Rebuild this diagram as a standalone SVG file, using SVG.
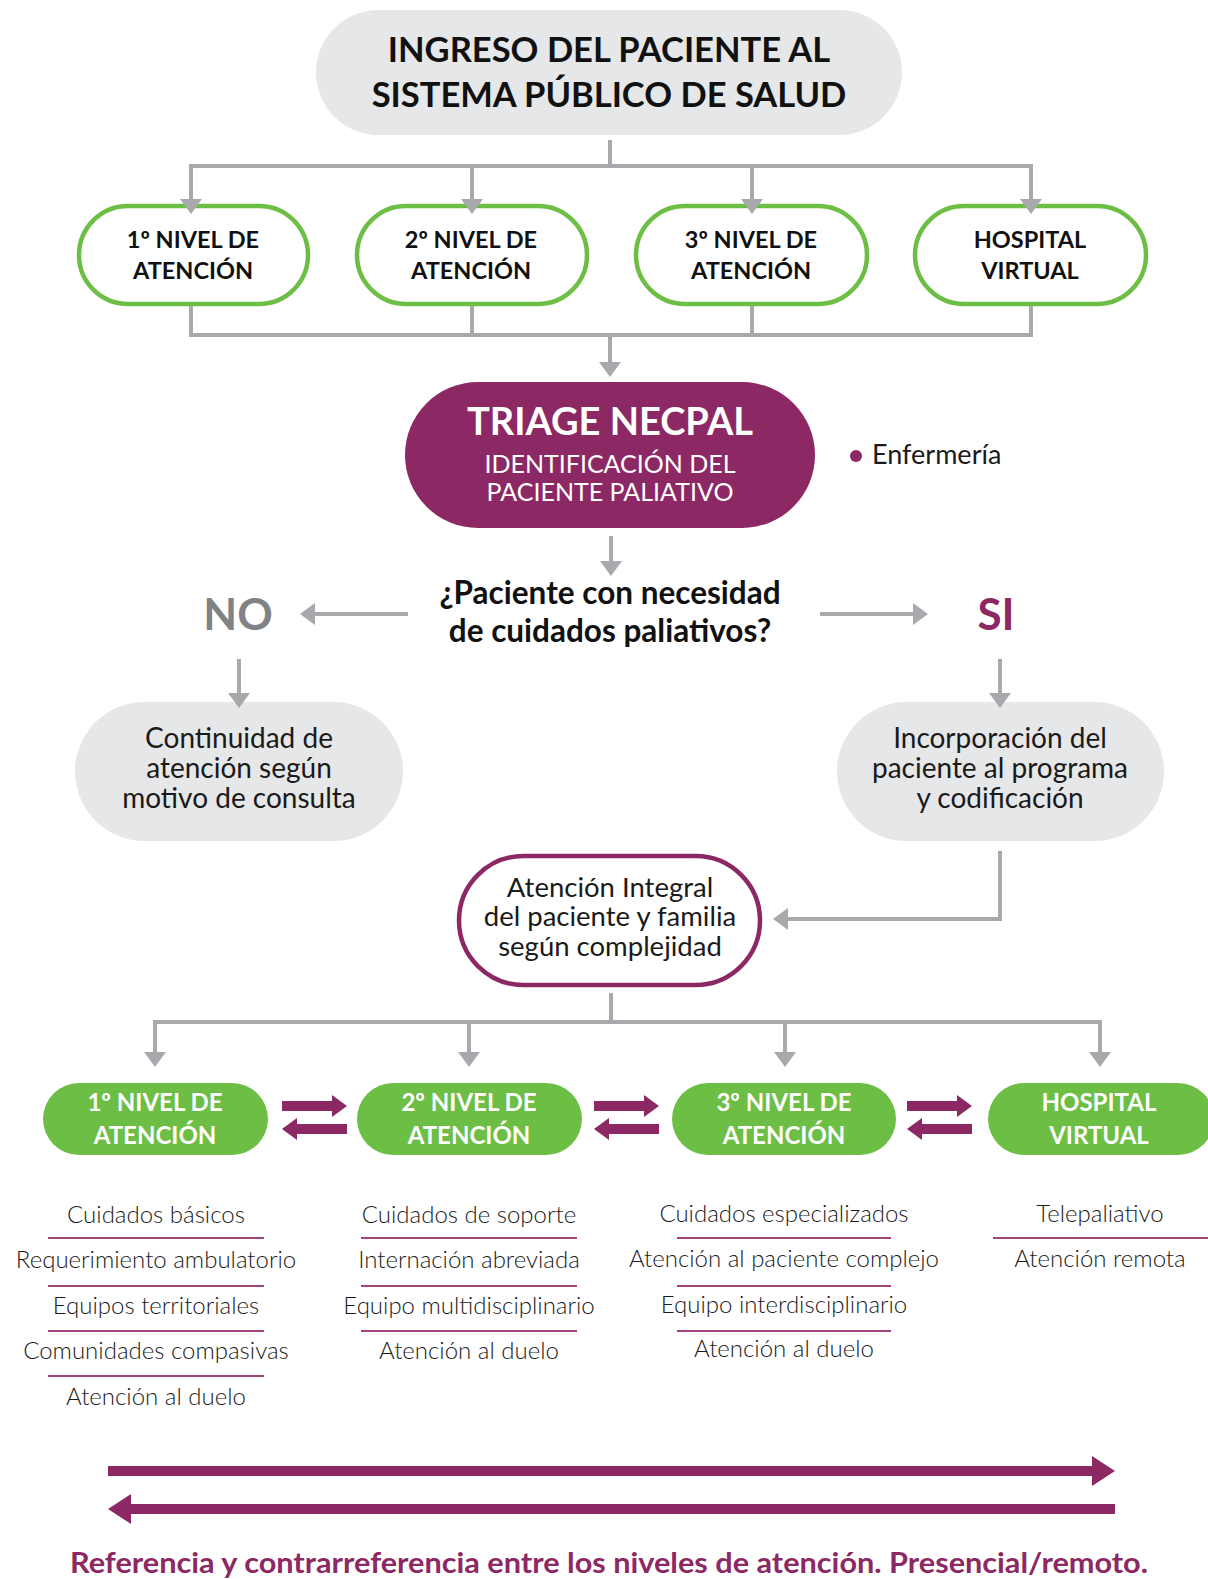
<svg xmlns="http://www.w3.org/2000/svg" width="1208" height="1579" viewBox="0 0 1208 1579">
<defs>
<marker id="ga" viewBox="0 0 15 22" refX="5" refY="11" markerWidth="15" markerHeight="22" markerUnits="userSpaceOnUse" orient="auto-start-reverse"><path d="M0,0 L15,11 L0,22 z" fill="#a7a9ac"/></marker>
<marker id="pa" viewBox="0 0 15 22" refX="1" refY="11" markerWidth="15" markerHeight="22" markerUnits="userSpaceOnUse" orient="auto"><path d="M0,0 L15,11 L0,22 z" fill="#8c2864"/></marker>
<marker id="pb" viewBox="0 0 23 30" refX="1" refY="15" markerWidth="23" markerHeight="30" markerUnits="userSpaceOnUse" orient="auto"><path d="M0,0 L23,15 L0,30 z" fill="#8c2864"/></marker>
<style>
text{font-family:Lato,"Open Sans","Liberation Sans",sans-serif;text-anchor:middle}
.con{fill:none;stroke:#a7a9ac;stroke-width:4}
.arr{marker-end:url(#ga)}
.both{marker-start:url(#ga);marker-end:url(#ga)}
.pur{fill:none;stroke:#8c2864;stroke-width:10}
.big{fill:none;stroke:#8c2864;stroke-width:10}
.gray{fill:#e6e7e8}
.lvl{fill:#fff;stroke:#6dbe45;stroke-width:4.5}
.lvlt{font-size:23.5px;font-weight:700;fill:#111}
.gn{fill:#6dbe45}
.gnt{font-size:24px;font-weight:700;fill:#fff}
.gt{font-size:28px;fill:#1a1a1a;font-weight:400}
.li{font-size:24px;fill:#1a1a1a;font-weight:300}
.sep{stroke:#a2457f;stroke-width:2}
</style>
</defs>

<g id="ingreso">
<rect class="gray" x="316" y="10" width="586" height="125" rx="62.5"/>
<text x="609" y="62" style="font-size:34.5px;font-weight:700;fill:#111">INGRESO DEL PACIENTE AL</text>
<text x="609" y="107" style="font-size:34.5px;font-weight:700;fill:#111">SISTEMA PÚBLICO DE SALUD</text>
</g>

<g id="nivel1">
<rect class="lvl" x="79" y="206" width="229" height="98" rx="49"/>
<text class="lvlt" x="193" y="248">1º NIVEL DE</text>
<text class="lvlt" x="193" y="279">ATENCIÓN</text>
</g>
<g id="nivel2">
<rect class="lvl" x="357" y="206" width="230" height="98" rx="49"/>
<text class="lvlt" x="471" y="248">2º NIVEL DE</text>
<text class="lvlt" x="471" y="279">ATENCIÓN</text>
</g>
<g id="nivel3">
<rect class="lvl" x="636" y="206" width="231" height="98" rx="49"/>
<text class="lvlt" x="751" y="248">3º NIVEL DE</text>
<text class="lvlt" x="751" y="279">ATENCIÓN</text>
</g>
<g id="hospital">
<rect class="lvl" x="915" y="206" width="231" height="98" rx="49"/>
<text class="lvlt" x="1030" y="248">HOSPITAL</text>
<text class="lvlt" x="1030" y="279">VIRTUAL</text>
</g>

<g id="triage">
<rect x="405" y="382" width="410" height="146" rx="73" fill="#8c2864"/>
<text x="610" y="435" style="font-size:38px;font-weight:700;fill:#fff">TRIAGE NECPAL</text>
<text x="610" y="473" style="font-size:25px;fill:#fff">IDENTIFICACIÓN DEL</text>
<text x="610" y="501" style="font-size:25px;fill:#fff">PACIENTE PALIATIVO</text>
</g>

<g id="enfermeria">
<circle cx="856" cy="456" r="6" fill="#8c2864"/>
<text x="872" y="464" style="font-size:27px;fill:#1a1a1a;text-anchor:start">Enfermería</text>
</g>

<g id="pregunta">
<text x="610" y="604" style="font-size:31.5px;font-weight:700;fill:#111">¿Paciente con necesidad</text>
<text x="610" y="642" style="font-size:31.5px;font-weight:700;fill:#111">de cuidados paliativos?</text>
</g>

<g id="no">
<text x="238" y="630" style="font-size:44px;font-weight:700;fill:#808285">NO</text>
</g>
<g id="si">
<text x="996" y="630" style="font-size:44px;font-weight:700;fill:#8c2864">SI</text>
</g>

<g id="continuidad">
<rect class="gray" x="75" y="702" width="328" height="139" rx="69.5"/>
<text class="gt" x="239" y="748">Continuidad de</text>
<text class="gt" x="239" y="778">atención según</text>
<text class="gt" x="239" y="808">motivo de consulta</text>
</g>

<g id="incorporacion">
<rect class="gray" x="837" y="702" width="327" height="139" rx="69.5"/>
<text class="gt" x="1000" y="748">Incorporación del</text>
<text class="gt" x="1000" y="778">paciente al programa</text>
<text class="gt" x="1000" y="808">y codificación</text>
</g>

<g id="integral">
<rect x="459" y="856" width="301" height="129" rx="64.5" fill="#fff" stroke="#8c2864" stroke-width="4.5"/>
<text class="gt" x="610" y="897" style="font-size:27.5px">Atención Integral</text>
<text class="gt" x="610" y="926" style="font-size:27.5px">del paciente y familia</text>
<text class="gt" x="610" y="956" style="font-size:27.5px">según complejidad</text>
</g>

<g id="n1">
<rect class="gn" x="43" y="1083" width="225" height="72" rx="36"/>
<text class="gnt" x="155" y="1111">1º NIVEL DE</text>
<text class="gnt" x="155" y="1144">ATENCIÓN</text>
</g>
<g id="n2">
<rect class="gn" x="357" y="1083" width="225" height="72" rx="36"/>
<text class="gnt" x="469" y="1111">2º NIVEL DE</text>
<text class="gnt" x="469" y="1144">ATENCIÓN</text>
</g>
<g id="n3">
<rect class="gn" x="672" y="1083" width="224" height="72" rx="36"/>
<text class="gnt" x="784" y="1111">3º NIVEL DE</text>
<text class="gnt" x="784" y="1144">ATENCIÓN</text>
</g>
<g id="n4">
<rect class="gn" x="988" y="1083" width="226" height="72" rx="36"/>
<text class="gnt" x="1099" y="1111">HOSPITAL</text>
<text class="gnt" x="1099" y="1144">VIRTUAL</text>
</g>

<g id="lista1">
<text class="li" x="156" y="1223">Cuidados básicos</text>
<line class="sep" x1="48" y1="1238" x2="264" y2="1238"/>
<text class="li" x="156" y="1268">Requerimiento ambulatorio</text>
<line class="sep" x1="48" y1="1286" x2="264" y2="1286"/>
<text class="li" x="156" y="1314">Equipos territoriales</text>
<line class="sep" x1="48" y1="1331" x2="264" y2="1331"/>
<text class="li" x="156" y="1359">Comunidades compasivas</text>
<line class="sep" x1="48" y1="1376" x2="264" y2="1376"/>
<text class="li" x="156" y="1405">Atención al duelo</text>
</g>

<g id="lista2">
<text class="li" x="469" y="1223">Cuidados de soporte</text>
<line class="sep" x1="361" y1="1238" x2="577" y2="1238"/>
<text class="li" x="469" y="1268">Internación abreviada</text>
<line class="sep" x1="361" y1="1286" x2="577" y2="1286"/>
<text class="li" x="469" y="1314">Equipo multidisciplinario</text>
<line class="sep" x1="361" y1="1331" x2="577" y2="1331"/>
<text class="li" x="469" y="1359">Atención al duelo</text>
</g>

<g id="lista3">
<text class="li" x="784" y="1222">Cuidados especializados</text>
<line class="sep" x1="677" y1="1238" x2="891" y2="1238"/>
<text class="li" x="784" y="1267">Atención al paciente complejo</text>
<line class="sep" x1="677" y1="1286" x2="891" y2="1286"/>
<text class="li" x="784" y="1313">Equipo interdisciplinario</text>
<line class="sep" x1="677" y1="1331" x2="891" y2="1331"/>
<text class="li" x="784" y="1357">Atención al duelo</text>
</g>

<g id="lista4">
<text class="li" x="1100" y="1222">Telepaliativo</text>
<line class="sep" x1="993" y1="1238" x2="1208" y2="1238"/>
<text class="li" x="1100" y="1267">Atención remota</text>
</g>

<g id="leyenda">
<text x="609" y="1573" textLength="1078" lengthAdjust="spacingAndGlyphs" style="font-size:29px;font-weight:700;fill:#8c2864">Referencia y contrarreferencia entre los niveles de atención. Presencial/remoto.</text>
</g>

<g id="connectors">
<path class="con" d="M610,140 V166"/>
<path class="con both" d="M191,204 V166 H1031 V204"/>
<path class="con arr" d="M472,166 V204"/>
<path class="con arr" d="M752,166 V204"/>
<path class="con" d="M191,306 V335 H1031 V306"/>
<path class="con" d="M472,306 V335"/>
<path class="con" d="M752,306 V335"/>
<path class="con arr" d="M610,335 V367"/>
<path class="con arr" d="M611,536 V566"/>
<path class="con arr" d="M408,614 H310"/>
<path class="con arr" d="M820,614 H918"/>
<path class="con arr" d="M239,659 V698"/>
<path class="con arr" d="M1000,659 V698"/>
<path class="con arr" d="M1000,851 V919 H783"/>
<path class="con" d="M611,993 V1022"/>
<path class="con both" d="M155,1057 V1022 H1100 V1057"/>
<path class="con arr" d="M469,1022 V1057"/>
<path class="con arr" d="M785,1022 V1057"/>
<path class="pur" d="M282,1106 H333" marker-end="url(#pa)"/>
<path class="pur" d="M347,1129 H296" marker-end="url(#pa)"/>
<path class="pur" d="M594,1106 H645" marker-end="url(#pa)"/>
<path class="pur" d="M659,1129 H608" marker-end="url(#pa)"/>
<path class="pur" d="M907,1106 H958" marker-end="url(#pa)"/>
<path class="pur" d="M972,1129 H921" marker-end="url(#pa)"/>
<path class="big" d="M108,1471 H1093" marker-end="url(#pb)"/>
<path class="big" d="M1115,1509 H130" marker-end="url(#pb)"/>
</g>
</svg>
